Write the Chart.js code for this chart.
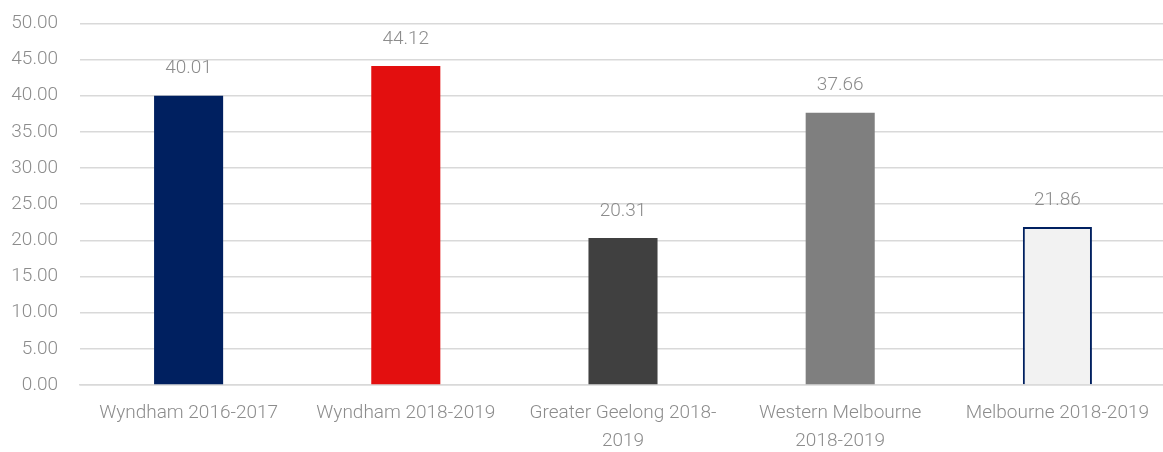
<!DOCTYPE html>
<html>
<head>
<meta charset="utf-8">
<script src="https://cdn.jsdelivr.net/npm/chart.js@4"></script>
<style>
  html, body { margin: 0; padding: 0; background: #fff; overflow: hidden; }
  #wrap { width: 1166px; height: 462px; margin-top: -10px; }
</style>
</head>
<body>
<div id="wrap"><canvas id="myChart"></canvas></div>
<script>
// Datos del gráfico
const categorias = ['Wyndham 2016-2017', 'Wyndham 2018-2019', ['Greater Geelong 2018-', '2019'], ['Western Melbourne', '2018-2019'], 'Melbourne 2018-2019'];
const valores = [40.01, 44.12, 20.31, 37.66, 21.86];
const coloresRelleno = ['#002060', '#E30F0F', '#404040', '#7F7F7F', '#F2F2F2'];
const coloresBorde = ['#002060', '#E30F0F', '#404040', '#7F7F7F', '#002060'];

// Etiquetas encima de las barras
const etiquetasValor = {
    id: 'etiquetasValor',
    afterDatasetsDraw(chart) {
        const ctx = chart.ctx;
        const meta = chart.getDatasetMeta(0);
        ctx.save();
        ctx.font = '300 19px Roboto';
        ctx.fillStyle = '#8C8C8C';
        ctx.textAlign = 'center';
        ctx.textBaseline = 'middle';
        meta.data.forEach(function(bar, i) {
            ctx.fillText(valores[i].toFixed(2), bar.x, bar.y - 27);
        });
        ctx.restore();
    }
};

let ctx = document.getElementById('myChart').getContext('2d');
const myChart = new Chart(ctx, {
    type: 'bar',
    data: {
        labels: categorias,
        datasets: [{
            data: valores,
            backgroundColor: coloresRelleno,
            borderColor: coloresBorde,
            borderWidth: [0, 0, 0, 0, 2],
            categoryPercentage: 1,
            barPercentage: 0.318
        }]
    },
    options: {
        responsive: true,
        maintainAspectRatio: false,
        animation: false,
        layout: { padding: 0 },
        plugins: {
            legend: { display: false },
            tooltip: { enabled: false }
        },
        scales: {
            y: {
                min: 0,
                max: 50,
                ticks: {
                    stepSize: 5,
                    color: '#8C8C8C',
                    font: { family: 'Roboto', size: 19, weight: '300' },
                    padding: 22,
                    callback: v => v.toFixed(2)
                },
                afterFit: function(scale) { scale.width = 80; },
                grid: { color: '#D9D9D9', lineWidth: 1.5, drawTicks: false },
                border: { display: false }
            },
            x: {
                ticks: {
                    color: '#8C8C8C',
                    font: { family: 'Roboto', size: 19, weight: '300', lineHeight: 1.47 },
                    maxRotation: 0,
                    autoSkip: false,
                    padding: 14
                },
                afterFit: function(scale) { scale.height = 67; },
                grid: { display: false, drawTicks: false },
                border: { display: true, color: '#D9D9D9', width: 1.5 }
            }
        }
    },
    plugins: [etiquetasValor]
});
</script>
</body>
</html>
